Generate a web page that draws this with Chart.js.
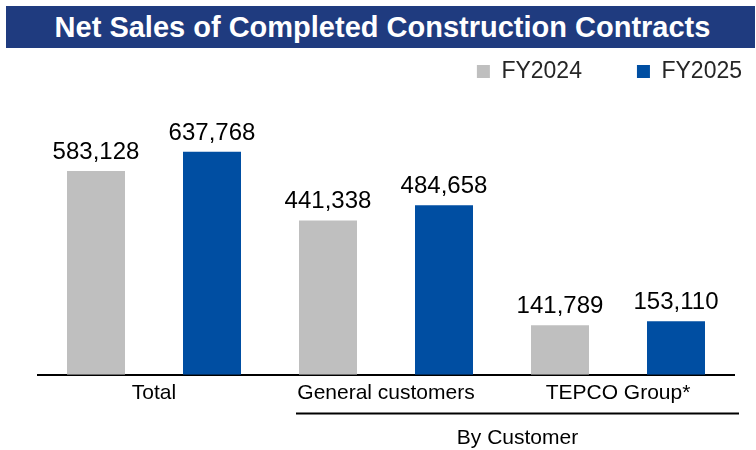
<!DOCTYPE html>
<html>
<head>
<meta charset="utf-8">
<script src="https://cdn.jsdelivr.net/npm/chart.js@4.4.1/dist/chart.umd.min.js"></script>
<style>
  html, body { margin: 0; padding: 0; background: #fff; }
  #wrap { position: relative; width: 756px; height: 450px; }
  #banner {
    position: absolute; left: 6px; top: 6px; width: 749px; height: 42px;
    background: #1F3B7F; color: #fff; z-index: 2;
    font: bold 29px "Liberation Sans", Arial, sans-serif;
    display: flex; align-items: center; justify-content: center;
    padding-left: 4px; box-sizing: border-box;
  }
  canvas { position: absolute; left: 0; top: 0; }
</style>
</head>
<body>
<div id="wrap">
  <div id="banner">Net Sales of Completed Construction Contracts</div>
  <canvas id="c" width="756" height="450"></canvas>
</div>
<script>
const categories = ["Total", "General customers", "TEPCO Group*"];
const seriesNames = ["FY2024", "FY2025"];
const fy2024 = [583128, 441338, 141789];
const fy2025 = [637768, 484658, 153110];
const groupLabel = "By Customer";
const yMax = 806000;

const FONT = '"Liberation Sans", Arial, sans-serif';

const valueLabels = {
  id: 'valueLabels',
  afterDatasetsDraw(chart) {
    const ctx = chart.ctx;
    ctx.save();
    ctx.font = '24px ' + FONT;
    ctx.fillStyle = '#000';
    ctx.textAlign = 'center';
    ctx.textBaseline = 'alphabetic';
    chart.data.datasets.forEach((ds, i) => {
      chart.getDatasetMeta(i).data.forEach((bar, j) => {
        ctx.fillText(ds.data[j].toLocaleString('en-US'), bar.x, bar.y - 12);
      });
    });
    ctx.restore();
  }
};

const groupBracket = {
  id: 'groupBracket',
  afterDraw(chart) {
    const xs = chart.scales.x;
    const ctx = chart.ctx;
    const x1 = xs.getPixelForValue(1) - 90;
    const x2 = xs.getPixelForValue(2) + 121;
    const y = 413.5;
    ctx.save();
    ctx.strokeStyle = '#000';
    ctx.lineWidth = 2;
    ctx.beginPath();
    ctx.moveTo(x1, y);
    ctx.lineTo(x2, y);
    ctx.stroke();
    ctx.font = '21px ' + FONT;
    ctx.fillStyle = '#000';
    ctx.textAlign = 'center';
    ctx.textBaseline = 'middle';
    ctx.fillText(groupLabel, (x1 + x2) / 2, 438);
    ctx.restore();
  }
};

// shift the legend row so it ends near the right edge of the picture
const legendShift = {
  id: 'legendShift',
  afterLayout(chart) {
    const lg = chart.legend;
    if (lg) { lg.right = 797; }
  }
};

new Chart(document.getElementById('c'), {
  type: 'bar',
  data: {
    labels: categories,
    datasets: [
      { label: seriesNames[0], data: fy2024, backgroundColor: '#BFBFBF' },
      { label: seriesNames[1], data: fy2025, backgroundColor: '#004EA2' }
    ]
  },
  options: {
    responsive: false,
    animation: false,
    devicePixelRatio: 1,
    categoryPercentage: 1.0,
    barPercentage: 0.5,
    layout: { padding: { left: 38, right: 22, top: 5, bottom: 38 } },
    plugins: {
      title: { display: false },
      tooltip: { enabled: false },
      legend: {
        display: true,
        position: 'top',
        align: 'end',
        labels: {
          boxWidth: 13,
          boxHeight: 13,
          color: '#262626',
          font: { family: FONT, size: 23 },
          padding: 55
        }
      }
    },
    scales: {
      x: {
        grid: { display: false, drawTicks: false },
        border: { display: true, color: '#000', width: 2 },
        ticks: { color: '#000', font: { family: FONT, size: 21 }, padding: 6 }
      },
      y: {
        display: false,
        min: 0,
        max: yMax
      }
    }
  },
  plugins: [valueLabels, groupBracket, legendShift]
});
</script>
</body>
</html>
